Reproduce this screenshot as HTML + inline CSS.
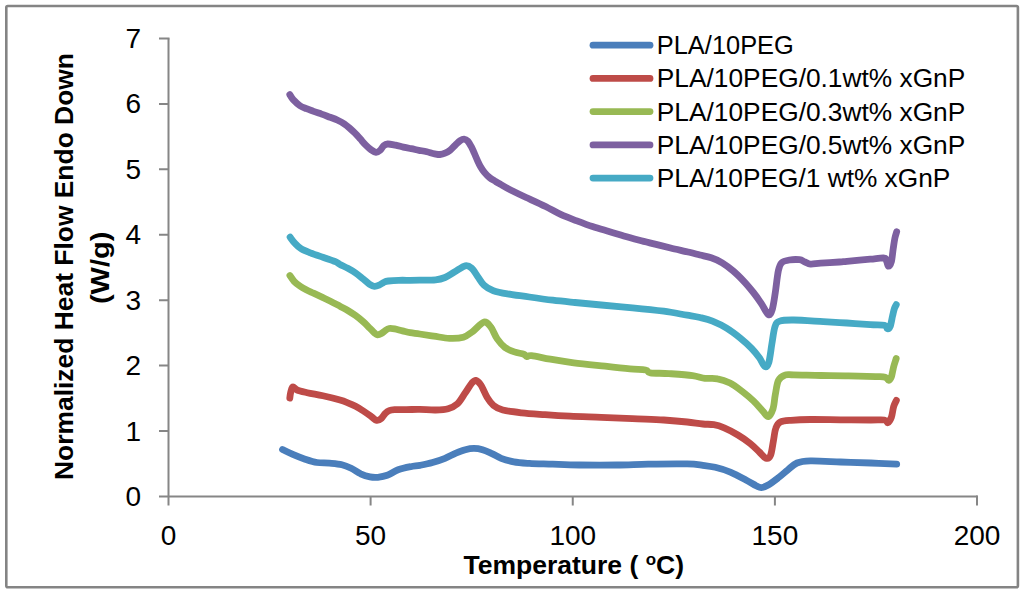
<!DOCTYPE html>
<html><head><meta charset="utf-8">
<style>
html,body{margin:0;padding:0;background:#fff;}
body{width:1024px;height:594px;overflow:hidden;}
svg{display:block;}
text{font-family:"Liberation Sans",sans-serif;fill:#000;}
</style></head>
<body>
<svg width="1024" height="594" viewBox="0 0 1024 594">
<rect x="0" y="0" width="1024" height="594" fill="#fff"/>
<rect x="6.3" y="6" width="1011.6" height="581.3" rx="1.5" fill="none" stroke="#848484" stroke-width="2.6"/>
<g stroke="#868686" stroke-width="2" fill="none">
<path d="M168.5 38.5V505.5"/>
<path d="M159 496.5H977.5"/>
<path d="M159 38.5H169.5M159 103.9H168.5M159 169.3H168.5M159 234.8H168.5M159 300.2H168.5M159 365.6H168.5M159 431H168.5"/>
<path d="M370.6 496.5V505.5M572.75 496.5V505.5M774.9 496.5V505.5M977 495.5V505.5"/>
</g>
<g font-size="28" text-anchor="end">
<text x="141" y="48">7</text>
<text x="141" y="113.4">6</text>
<text x="141" y="178.8">5</text>
<text x="141" y="244.3">4</text>
<text x="141" y="309.7">3</text>
<text x="141" y="375.1">2</text>
<text x="141" y="440.5">1</text>
<text x="141" y="506">0</text>
</g>
<g font-size="28" text-anchor="middle">
<text x="168.5" y="544.5">0</text>
<text x="370.6" y="544.5">50</text>
<text x="572.75" y="544.5">100</text>
<text x="774.9" y="544.5">150</text>
<text x="977" y="544.5">200</text>
</g>
<text x="463.5" y="574" font-size="25" font-weight="bold" textLength="220.5" lengthAdjust="spacingAndGlyphs">Temperature ( <tspan font-size="16" dy="-9">o</tspan><tspan dy="9">C)</tspan></text>
<g transform="translate(73,480) rotate(-90)">
<text x="0" y="0" font-size="25.5" font-weight="bold" textLength="427" lengthAdjust="spacingAndGlyphs">Normalized Heat Flow Endo Down</text>
</g>
<g transform="translate(109.3,304.1) rotate(-90)">
<text x="0" y="0" font-size="25.5" font-weight="bold" textLength="72.5" lengthAdjust="spacingAndGlyphs">(W/g)</text>
</g>
<g fill="none" stroke-width="6.8" stroke-linecap="round" stroke-linejoin="round">
<path d="M593 45.2H650" stroke="#4A7EBB"/>
<path d="M593 78.4H650" stroke="#BE4B48"/>
<path d="M593 111.6H650" stroke="#98B954"/>
<path d="M593 144.9H650" stroke="#7D60A0"/>
<path d="M593 178.1H650" stroke="#46AAC5"/>
</g>
<g font-size="25.6">
<text x="656.8" y="53.7" textLength="137" lengthAdjust="spacingAndGlyphs">PLA/10PEG</text>
<text x="656.8" y="87.1" textLength="308.5" lengthAdjust="spacingAndGlyphs">PLA/10PEG/0.1wt% xGnP</text>
<text x="656.8" y="120.5" textLength="308.5" lengthAdjust="spacingAndGlyphs">PLA/10PEG/0.3wt% xGnP</text>
<text x="656.8" y="153.9" textLength="308.5" lengthAdjust="spacingAndGlyphs">PLA/10PEG/0.5wt% xGnP</text>
<text x="656.8" y="187.4" textLength="293.5" lengthAdjust="spacingAndGlyphs">PLA/10PEG/1 wt% xGnP</text>
</g>
<g fill="none" stroke-width="6.8" stroke-linecap="round" stroke-linejoin="round">
<path d="M282.5 449.5 C284.3 450.4 289.8 453.1 293.4 454.7 C297.0 456.3 300.5 457.6 304.4 458.9 C308.3 460.2 312.7 461.8 316.9 462.5 C321.1 463.2 325.2 462.7 329.4 463.1 C333.6 463.5 338.3 463.8 341.9 464.7 C345.5 465.6 348.1 466.8 351.2 468.3 C354.4 469.8 357.5 472.3 360.6 473.8 C363.7 475.2 367.1 476.3 370.0 476.9 C372.9 477.5 374.9 477.6 377.8 477.3 C380.7 477.0 383.8 476.6 387.2 475.3 C390.6 474.1 394.2 471.2 398.1 469.8 C402.0 468.4 407.0 467.4 410.6 466.7 C414.2 465.9 416.4 466.0 420.0 465.3 C423.6 464.6 428.3 463.7 432.5 462.5 C436.7 461.3 441.1 459.9 445.0 458.3 C448.9 456.7 452.5 454.5 455.9 453.1 C459.3 451.7 462.3 450.5 465.3 449.7 C468.3 448.9 471.0 448.4 473.9 448.4 C476.8 448.4 479.5 448.8 482.5 449.7 C485.5 450.6 488.8 452.2 491.9 453.6 C495.0 455.0 497.6 456.9 501.2 458.3 C504.9 459.7 509.1 461.0 513.8 461.9 C518.4 462.8 522.9 463.0 529.4 463.4 C535.9 463.8 544.5 463.9 552.8 464.2 C561.1 464.5 568.7 464.9 579.4 465.0 C590.1 465.1 605.4 465.1 616.9 465.0 C628.4 464.9 636.4 464.3 648.1 464.1 C659.8 463.9 678.1 463.7 687.2 463.9 C696.3 464.1 698.1 464.7 702.8 465.3 C707.5 465.9 710.6 466.2 715.2 467.3 C719.8 468.4 725.2 470.0 730.3 472.1 C735.3 474.2 741.2 477.4 745.5 479.7 C749.8 482.0 753.5 484.4 756.1 485.8 C758.8 487.1 759.4 487.7 761.4 487.6 C763.4 487.5 765.3 486.7 768.2 485.0 C771.1 483.3 775.5 479.9 778.8 477.4 C782.1 474.9 784.9 472.2 787.9 469.8 C790.9 467.4 793.3 464.5 797.0 463.0 C800.7 461.5 803.0 461.1 810.3 460.9 C817.6 460.7 830.5 461.6 840.6 462.0 C850.7 462.4 861.5 462.6 870.9 463.0 C880.2 463.4 892.4 464.0 896.7 464.2" stroke="#4A7EBB"/>
<path d="M289.8 398.1 C289.9 397.1 290.3 393.8 290.8 391.9 C291.3 390.0 291.8 387.2 292.9 386.9 C293.9 386.6 294.7 389.0 297.1 390.0 C299.5 391.0 302.9 391.7 307.2 392.7 C311.6 393.7 317.4 394.6 322.9 395.8 C328.4 397.0 335.9 398.9 340.0 400.1 C344.1 401.3 345.2 401.8 347.8 402.8 C350.4 403.8 353.0 404.9 355.6 406.3 C358.2 407.7 360.8 409.3 363.4 411.0 C366.0 412.7 369.0 414.9 371.2 416.5 C373.5 418.1 375.0 420.1 376.7 420.4 C378.4 420.7 380.0 419.6 381.4 418.4 C382.8 417.2 384.0 414.7 385.3 413.4 C386.6 412.1 387.6 411.2 389.2 410.6 C390.8 410.0 391.8 409.9 394.7 409.7 C397.6 409.5 402.2 409.7 406.4 409.6 C410.6 409.6 414.8 409.3 419.7 409.4 C424.6 409.5 430.9 410.1 435.6 410.0 C440.3 409.9 444.5 409.8 448.1 408.8 C451.8 407.7 454.6 406.4 457.5 403.8 C460.4 401.1 462.9 396.2 465.3 392.8 C467.7 389.4 469.8 385.5 471.6 383.4 C473.4 381.3 474.3 380.0 475.9 380.3 C477.4 380.6 479.0 382.1 480.9 385.0 C482.8 387.9 485.1 394.1 487.2 397.5 C489.3 400.9 490.8 403.2 493.4 405.3 C496.0 407.4 498.1 408.8 502.8 410.0 C507.5 411.2 514.6 412.0 521.6 412.8 C528.6 413.6 536.9 414.1 545.0 414.7 C553.1 415.3 560.6 415.8 570.0 416.2 C579.4 416.7 590.8 416.9 601.2 417.3 C611.7 417.7 622.1 418.2 632.5 418.6 C642.9 419.1 654.6 419.4 663.8 420.0 C672.9 420.6 680.7 421.3 687.2 422.0 C693.7 422.7 698.4 423.6 702.8 424.0 C707.2 424.4 710.2 424.1 713.8 424.7 C717.3 425.3 720.2 426.2 724.2 427.9 C728.2 429.6 733.6 432.4 737.9 435.0 C742.2 437.6 746.5 440.5 750.0 443.3 C753.5 446.1 756.5 449.2 759.1 451.7 C761.8 454.2 764.0 457.6 765.9 458.2 C767.8 458.8 769.2 458.5 770.5 455.5 C771.8 452.5 772.6 444.9 773.5 440.3 C774.4 435.8 774.6 431.2 775.8 428.2 C776.9 425.2 777.8 423.4 780.3 422.1 C782.8 420.8 785.9 420.7 790.9 420.3 C795.9 419.9 802.0 419.6 810.3 419.5 C818.6 419.4 830.5 419.7 840.6 419.8 C850.7 419.9 863.6 420.0 870.9 420.0 C878.2 420.0 881.7 419.6 884.5 420.0 C887.3 420.4 886.8 423.1 887.9 422.6 C889.0 422.2 890.4 420.0 891.4 417.3 C892.4 414.6 892.8 409.5 893.6 406.7 C894.4 403.9 895.9 401.4 896.4 400.3" stroke="#BE4B48"/>
<path d="M289.9 275.5 C290.6 276.5 292.4 279.5 294.1 281.3 C295.8 283.1 298.2 284.8 300.2 286.2 C302.2 287.6 304.0 288.6 306.2 289.8 C308.4 291.0 310.9 292.0 313.5 293.2 C316.1 294.4 319.2 295.8 322.0 297.1 C324.8 298.5 327.5 299.8 330.5 301.3 C333.5 302.8 337.1 304.7 340.0 306.2 C342.9 307.8 345.2 308.9 347.8 310.5 C350.4 312.1 353.0 313.7 355.6 315.6 C358.2 317.5 361.0 319.8 363.4 321.9 C365.8 324.0 367.9 326.3 369.7 328.1 C371.5 329.9 373.1 331.7 374.4 332.8 C375.7 333.9 376.3 334.7 377.5 334.8 C378.7 334.9 380.1 334.3 381.4 333.6 C382.7 332.9 384.0 331.4 385.3 330.5 C386.6 329.6 387.6 328.8 389.2 328.5 C390.8 328.2 392.5 328.5 394.7 328.9 C396.9 329.3 399.9 330.3 402.5 330.9 C405.1 331.5 407.4 332.2 410.3 332.7 C413.2 333.2 415.8 333.4 419.7 334.0 C423.6 334.6 428.8 335.4 433.8 336.1 C438.7 336.8 444.5 338.2 449.4 338.4 C454.3 338.6 459.5 338.4 463.4 337.2 C467.3 336.0 469.4 333.9 472.8 331.4 C476.2 328.9 481.0 322.8 484.0 322.1 C487.0 321.4 488.7 324.4 490.9 327.2 C493.1 330.0 494.8 335.5 497.2 338.9 C499.6 342.3 502.1 345.3 505.0 347.5 C507.9 349.7 511.3 350.8 514.4 351.9 C517.5 353.0 521.7 353.4 523.8 354.2 C525.8 355.0 525.6 356.4 526.9 356.6 C528.2 356.8 527.7 355.2 531.6 355.6 C535.5 356.0 543.3 358.0 550.3 359.2 C557.3 360.4 564.6 361.6 573.8 362.8 C582.9 364.0 595.6 365.2 605.0 366.2 C614.4 367.3 623.2 368.3 630.0 368.9 C636.8 369.5 642.2 369.4 645.6 370.0 C649.0 370.6 646.4 372.2 650.3 372.8 C654.2 373.4 662.0 373.1 669.0 373.6 C676.0 374.1 686.5 374.8 692.5 375.6 C698.5 376.4 700.8 377.8 705.0 378.3 C709.2 378.8 713.3 378.0 717.5 378.8 C721.7 379.5 725.8 380.9 730.0 383.0 C734.2 385.1 738.6 388.6 742.5 391.6 C746.4 394.6 750.0 397.6 753.4 400.9 C756.8 404.1 760.3 408.5 762.8 411.1 C765.3 413.7 766.6 417.0 768.3 416.6 C770.0 416.2 771.8 412.4 773.0 408.8 C774.2 405.1 774.4 399.4 775.3 394.7 C776.2 390.0 776.8 383.9 778.4 380.6 C780.0 377.4 782.2 376.1 784.7 375.2 C787.2 374.2 787.7 374.8 793.7 374.9 C799.8 374.9 811.9 375.4 821.0 375.5 C830.1 375.6 839.3 375.6 848.4 375.8 C857.5 376.0 869.6 376.4 875.7 376.6 C881.9 376.8 883.1 376.6 885.3 377.2 C887.5 377.8 887.7 380.4 888.7 380.3 C889.7 380.2 890.6 379.1 891.4 376.9 C892.2 374.7 892.7 370.4 893.5 367.3 C894.3 364.2 895.8 360.0 896.2 358.5" stroke="#98B954"/>
<path d="M289.8 94.6 C290.3 95.4 291.5 97.8 293.2 99.6 C294.9 101.4 297.8 104.2 300.0 105.7 C302.2 107.2 304.4 107.8 306.5 108.7 C308.6 109.6 310.4 110.2 312.9 111.1 C315.4 112.0 318.7 113.1 321.6 114.1 C324.5 115.1 327.5 116.3 330.2 117.3 C332.9 118.3 335.4 119.2 337.7 120.3 C340.0 121.4 342.2 122.5 344.2 123.8 C346.2 125.1 347.8 126.5 349.6 128.1 C351.4 129.7 353.2 131.4 355.0 133.2 C356.8 135.0 358.6 137.1 360.4 139.1 C362.2 141.1 364.0 143.3 365.8 145.1 C367.6 146.9 369.5 148.7 371.2 149.9 C372.9 151.1 374.6 152.2 376.0 152.3 C377.4 152.4 378.6 151.6 379.9 150.5 C381.2 149.4 382.5 146.7 383.8 145.6 C385.1 144.5 385.8 144.1 387.7 144.0 C389.6 143.9 392.9 144.7 395.5 145.2 C398.1 145.7 400.7 146.5 403.3 147.1 C405.9 147.7 408.6 148.2 411.2 148.7 C413.8 149.2 416.4 149.8 419.0 150.3 C421.6 150.8 424.2 151.2 426.8 151.8 C429.4 152.4 432.4 153.4 434.6 153.8 C436.8 154.2 438.3 154.6 440.0 154.5 C441.7 154.4 443.3 154.0 445.0 153.2 C446.7 152.5 448.4 151.5 450.1 150.2 C451.8 148.9 453.5 146.8 455.2 145.2 C456.9 143.6 458.7 141.6 460.2 140.6 C461.7 139.6 462.7 139.0 464.0 139.1 C465.3 139.2 466.6 139.8 467.8 141.1 C469.0 142.4 470.2 144.7 471.3 146.7 C472.4 148.7 473.3 151.0 474.3 153.2 C475.3 155.5 476.4 158.1 477.4 160.3 C478.4 162.5 479.2 164.4 480.4 166.4 C481.6 168.4 482.9 170.6 484.4 172.4 C485.9 174.2 487.6 176.0 489.5 177.5 C491.4 179.0 493.9 180.4 495.6 181.5 C497.4 182.6 497.5 182.6 500.0 184.0 C502.5 185.4 506.2 187.8 510.6 190.0 C515.0 192.2 520.4 194.8 526.2 197.5 C532.1 200.2 539.8 203.6 545.6 206.5 C551.4 209.4 556.0 212.3 561.2 214.7 C566.5 217.1 571.7 218.9 576.9 220.9 C582.1 222.9 587.3 224.9 592.5 226.6 C597.7 228.3 602.9 229.7 608.1 231.2 C613.3 232.8 618.5 234.4 623.8 235.9 C629.0 237.4 634.2 238.8 639.4 240.2 C644.6 241.6 649.8 242.8 655.0 244.1 C660.2 245.4 664.9 246.6 670.6 248.0 C676.3 249.4 684.5 251.1 689.4 252.3 C694.3 253.5 696.4 254.1 700.0 255.0 C703.6 255.9 707.5 256.5 711.2 257.8 C715.0 259.1 718.6 260.6 722.2 262.8 C725.8 265.0 729.5 267.8 733.1 270.9 C736.8 274.0 740.7 278.0 744.1 281.6 C747.5 285.2 750.5 288.9 753.4 292.5 C756.3 296.1 758.8 299.7 761.2 303.4 C763.7 307.1 766.5 313.4 768.3 314.5 C770.1 315.6 771.0 313.4 772.2 309.7 C773.4 306.0 774.3 299.0 775.3 292.5 C776.3 286.0 777.3 275.6 778.4 270.6 C779.5 265.7 779.8 264.6 781.6 262.8 C783.4 261.0 786.4 260.5 789.4 260.0 C792.4 259.5 796.9 259.4 799.5 259.7 C802.1 260.0 803.2 261.3 805.0 262.0 C806.8 262.7 807.9 263.9 810.5 264.1 C813.1 264.3 815.8 263.5 820.6 263.1 C825.4 262.8 835.0 262.3 839.4 262.0 C843.8 261.7 841.8 261.8 846.9 261.3 C852.0 260.8 864.0 259.8 870.3 259.2 C876.5 258.6 881.7 257.6 884.4 258.0 C887.1 258.4 886.0 260.2 886.7 261.6 C887.4 263.0 887.7 266.2 888.5 266.2 C889.3 266.2 890.6 264.5 891.4 261.6 C892.2 258.7 892.6 252.6 893.2 248.7 C893.8 244.8 894.3 240.9 894.9 238.1 C895.5 235.3 896.4 232.8 896.7 231.7" stroke="#7D60A0"/>
<path d="M290.1 237.2 C290.9 238.2 292.9 241.3 294.8 243.2 C296.6 245.1 298.4 247.1 301.0 248.7 C303.6 250.3 306.8 251.5 310.4 252.9 C314.0 254.3 318.7 255.8 322.9 257.2 C327.1 258.7 332.5 260.4 335.4 261.6 C338.2 262.8 337.9 263.3 340.0 264.4 C342.1 265.5 345.2 266.9 347.8 268.3 C350.4 269.7 353.0 271.2 355.6 273.0 C358.2 274.8 361.0 277.3 363.4 279.2 C365.8 281.1 367.9 283.1 369.7 284.3 C371.5 285.5 372.8 286.2 374.4 286.3 C376.0 286.4 377.5 285.8 379.1 285.1 C380.7 284.4 382.2 283.0 383.8 282.3 C385.3 281.6 385.9 281.3 388.4 281.0 C390.9 280.7 395.0 280.4 398.6 280.3 C402.2 280.2 406.8 280.3 410.3 280.3 C413.8 280.3 415.5 280.3 419.7 280.2 C423.9 280.1 431.4 280.2 435.6 279.8 C439.8 279.4 441.9 278.8 445.0 277.5 C448.1 276.2 451.0 273.9 454.4 272.0 C457.8 270.1 462.4 266.4 465.3 265.8 C468.2 265.2 469.5 266.3 471.6 268.1 C473.7 269.9 475.7 273.8 477.8 276.7 C479.9 279.6 481.5 282.9 484.1 285.3 C486.7 287.7 489.5 289.4 493.4 290.8 C497.3 292.2 501.5 292.9 507.5 293.9 C513.5 294.9 521.9 295.9 529.4 297.0 C536.9 298.1 545.2 299.3 552.8 300.2 C560.4 301.1 566.9 301.7 575.0 302.5 C583.1 303.3 591.7 304.1 601.2 305.0 C610.8 305.9 622.1 306.8 632.5 307.8 C642.9 308.8 654.6 310.0 663.8 311.2 C672.9 312.5 681.2 314.2 687.2 315.2 C693.2 316.2 695.8 316.5 700.0 317.5 C704.2 318.5 708.1 319.3 712.5 321.1 C716.9 322.9 721.9 325.2 726.6 328.1 C731.3 331.0 736.4 334.9 740.6 338.3 C744.8 341.7 748.5 345.1 751.6 348.4 C754.7 351.6 757.2 354.8 759.4 357.8 C761.6 360.8 763.2 365.7 764.8 366.5 C766.4 367.3 767.6 366.3 768.8 362.5 C769.9 358.7 770.9 349.7 771.9 343.8 C772.9 337.8 773.7 330.4 775.0 326.6 C776.3 322.8 776.6 322.2 779.7 321.1 C782.8 320.0 786.5 319.9 793.8 320.0 C801.0 320.1 814.5 321.1 823.4 321.6 C832.3 322.1 839.1 322.5 846.9 323.0 C854.7 323.5 864.0 324.2 870.3 324.6 C876.5 325.0 881.6 324.5 884.4 325.2 C887.2 325.9 886.3 328.5 887.3 328.7 C888.3 328.9 889.3 328.4 890.2 326.3 C891.1 324.2 891.9 318.7 892.6 315.8 C893.3 312.9 893.7 310.6 894.3 308.8 C894.9 306.9 896.0 305.3 896.3 304.6" stroke="#46AAC5"/>
</g>
</svg>
</body></html>
